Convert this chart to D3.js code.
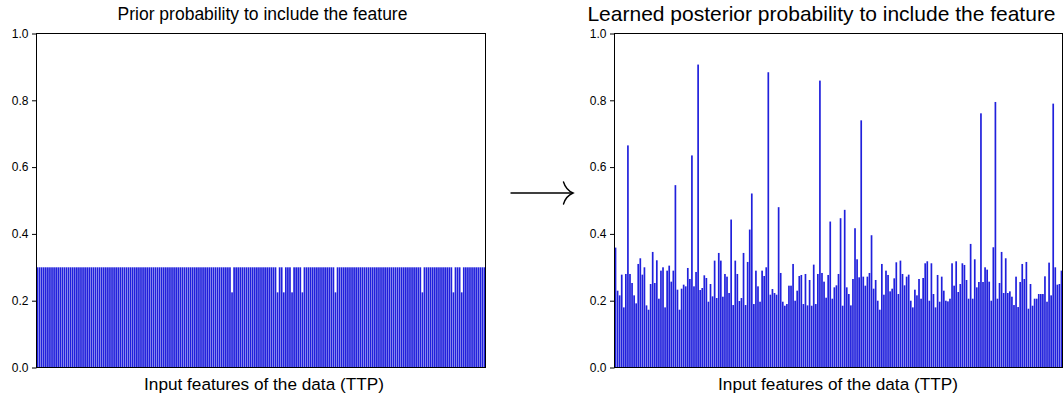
<!DOCTYPE html>
<html>
<head>
<meta charset="utf-8">
<script src="https://cdn.jsdelivr.net/npm/d3@7"></script>
<style>
  html, body { margin: 0; padding: 0; background: #fff; }
  svg { display: block; }
  text { font-family: "Liberation Sans", Arial, Helvetica, sans-serif; fill: #000; }
</style>
</head>
<body>
<svg id="chart" width="1063" height="397"></svg>
<script>
// ---------------- data ----------------
const titles = ["Prior probability to include the feature",
                "Learned posterior probability to include the feature"];
const xLabel = "Input features of the data (TTP)";
const yTicks = [0.0, 0.2, 0.4, 0.6, 0.8, 1.0];

const prior = [
  0.3,0.3,0.3,0.3,0.3,0.3,0.3,0.3,0.3,0.3,
  0.3,0.3,0.3,0.3,0.3,0.3,0.3,0.3,0.3,0.3,
  0.3,0.3,0.3,0.3,0.3,0.3,0.3,0.3,0.3,0.3,
  0.3,0.3,0.3,0.3,0.3,0.3,0.3,0.3,0.3,0.3,
  0.3,0.3,0.3,0.3,0.3,0.3,0.3,0.3,0.3,0.3,
  0.3,0.3,0.3,0.3,0.3,0.3,0.3,0.3,0.3,0.3,
  0.3,0.3,0.3,0.3,0.3,0.3,0.3,0.3,0.3,0.3,
  0.3,0.3,0.3,0.3,0.3,0.3,0.3,0.3,0.3,0.3,
  0.3,0.3,0.3,0.3,0.3,0.3,0.3,0.3,0.3,0.3,
  0.3,0.3,0.3,0.3,0.225,0.3,0.3,0.3,0.3,0.3,
  0.3,0.3,0.3,0.3,0.3,0.3,0.3,0.3,0.3,0.3,
  0.3,0.3,0.3,0.3,0.3,0.3,0.225,0.3,0.3,0.225,
  0.3,0.3,0.3,0.225,0.3,0.3,0.3,0.3,0.225,0.3,
  0.3,0.3,0.3,0.3,0.3,0.3,0.3,0.3,0.3,0.3,
  0.3,0.3,0.3,0.3,0.225,0.3,0.3,0.3,0.3,0.3,
  0.3,0.3,0.3,0.3,0.3,0.3,0.3,0.3,0.3,0.3,
  0.3,0.3,0.3,0.3,0.3,0.3,0.3,0.3,0.3,0.3,
  0.3,0.3,0.3,0.3,0.3,0.3,0.3,0.3,0.3,0.3,
  0.3,0.3,0.3,0.3,0.3,0.3,0.225,0.3,0.3,0.3,
  0.3,0.3,0.3,0.3,0.3,0.3,0.3,0.3,0.3,0.3,
  0.3,0.225,0.3,0.3,0.3,0.225,0.3,0.3,0.3,0.3,
  0.3,0.3,0.3,0.3,0.3,0.3,0.3
];

const posterior = [
  0.359,0.23,0.216,0.278,0.18,0.28,0.665,0.28,0.253,0.216,
  0.192,0.31,0.327,0.278,0.30,0.186,0.173,0.25,0.346,0.253,
  0.321,0.206,0.29,0.30,0.18,0.29,0.305,0.257,0.29,0.546,
  0.233,0.173,0.236,0.248,0.243,0.298,0.265,0.635,0.243,0.286,
  0.907,0.232,0.238,0.276,0.268,0.197,0.25,0.213,0.32,0.208,
  0.343,0.32,0.212,0.28,0.272,0.223,0.443,0.187,0.32,0.28,
  0.199,0.208,0.343,0.187,0.316,0.413,0.521,0.19,0.29,0.243,
  0.197,0.29,0.274,0.30,0.884,0.218,0.235,0.223,0.218,0.48,
  0.283,0.197,0.185,0.19,0.245,0.245,0.31,0.20,0.23,0.274,
  0.277,0.19,0.28,0.186,0.262,0.185,0.308,0.19,0.28,0.859,
  0.283,0.257,0.209,0.277,0.437,0.206,0.24,0.246,0.28,0.447,
  0.185,0.472,0.24,0.22,0.186,0.265,0.417,0.324,0.27,0.74,
  0.272,0.245,0.272,0.283,0.396,0.236,0.262,0.20,0.173,0.31,
  0.218,0.29,0.277,0.228,0.236,0.267,0.315,0.22,0.32,0.28,
  0.246,
  0.272,0.278,0.2,0.18,0.233,0.216,0.265,0.206,0.268,0.312,
  0.318,0.2,0.312,0.22,0.18,0.277,0.197,0.272,0.23,0.20,
  0.198,0.206,0.312,0.245,0.318,0.226,0.25,0.312,0.307,0.262,
  0.206,0.37,0.206,0.324,0.24,0.256,0.761,0.256,0.3,0.293,
  0.257,0.20,0.36,0.795,0.206,0.253,0.346,0.223,0.327,0.223,
  0.228,0.212,0.187,0.272,0.181,0.256,0.31,0.265,0.316,0.176,
  0.25,0.185,0.206,0.206,0.22,0.22,0.22,0.273,0.197,0.314,
  0.216,0.79,0.30,0.248,0.25,0.29
];

// ---------------- drawing ----------------
const svg = d3.select("#chart");
const barColor = "#2020dc";
const plotTop = 33.5, plotBottom = 367.5;
const y = d3.scaleLinear().domain([0, 1]).range([plotBottom, plotTop]);

const panels = [
  { x0: 36.5, x1: 485.5, data: prior, title: titles[0], titleX: 262.5, titleSize: 17.5, titleY: 20,
    labelX: 264 },
  { x0: 614.5, x1: 1062.5, data: posterior, title: titles[1], titleX: 821.5, titleSize: 21, titleY: 21,
    labelX: 838 }
];

panels.forEach(p => {
  const g = svg.append("g");
  const x = d3.scaleBand()
    .domain(d3.range(p.data.length))
    .range([p.x0, p.x1])
    .paddingInner(0.18)
    .paddingOuter(0.09);

  g.append("g").selectAll("rect")
    .data(p.data)
    .join("rect")
    .attr("x", (d, i) => x(i))
    .attr("width", x.bandwidth())
    .attr("y", d => y(d))
    .attr("height", d => y(0) - y(d))
    .attr("fill", barColor);

  // frame
  g.append("rect")
    .attr("x", p.x0).attr("y", plotTop)
    .attr("width", p.x1 - p.x0).attr("height", plotBottom - plotTop)
    .attr("fill", "none").attr("stroke", "#000").attr("stroke-width", 1);

  // y axis
  const ax = g.append("g")
    .attr("transform", `translate(${p.x0},0)`)
    .call(d3.axisLeft(y).tickValues(yTicks).tickFormat(d3.format(".1f"))
      .tickSize(4.5).tickPadding(3.5));
  ax.select(".domain").remove();
  ax.selectAll("line").attr("stroke", "#000");
  ax.selectAll("text").style("font-size", "12px")
    .style("font-family", '"Liberation Sans", Arial, sans-serif');

  // title
  g.append("text")
    .attr("x", p.titleX).attr("y", p.titleY)
    .attr("text-anchor", "middle")
    .style("font-size", p.titleSize + "px")
    .text(p.title);

  // x label
  g.append("text")
    .attr("x", p.labelX).attr("y", 390)
    .attr("text-anchor", "middle")
    .style("font-size", "17.2px")
    .text(xLabel);
});

// arrow between the panels
const arrow = svg.append("g").attr("fill", "none").attr("stroke", "#000")
  .attr("stroke-width", 1.4).attr("stroke-linecap", "round");
arrow.append("line").attr("x1", 511).attr("y1", 193).attr("x2", 572).attr("y2", 193);
arrow.append("path").attr("d", "M563.5,182 Q566,190 573,193 Q566,196 563.5,204");
</script>
</body>
</html>
